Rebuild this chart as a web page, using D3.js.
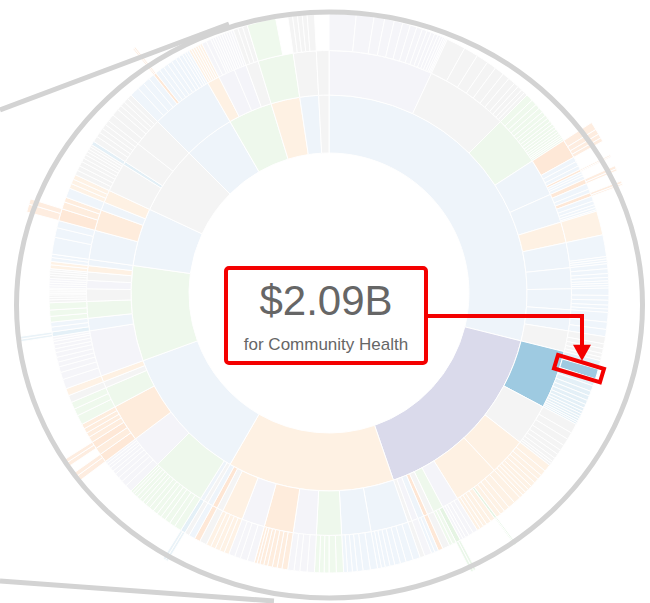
<!DOCTYPE html>
<html>
<head>
<meta charset="utf-8">
<script src="https://cdn.jsdelivr.net/npm/d3@7"></script>
<style>
    body { margin: 0; background: #fff; }
    svg { display: block; font-family: "Liberation Sans", Arial, sans-serif; }
</style>
</head>
<body>
<svg id="chart" width="650" height="603"></svg>
<script>
// --- Colours (20c style pastels) ---
const palette = {
    b: "#c6dbef", B: "#9ecae1",
    o: "#fdd0a2", O: "#fdbf8a", R: "#fcab70",
    g: "#c7e9c0", G: "#a1d99b",
    p: "#dadaeb", y: "#d9d9d9",
};

// --- Data: spending in $B ---
// ring 1 sectors, clockwise from 12 o'clock
const sectorColors = ["b", "p", "o", "b", "g", "b", "y", "b", "g", "o", "b", "y"];

// ring 2 programs per sector: [colour, value, ring 3 items]
// a ring 3 item is a value (same colour as program) or [colour, ring 4 values]
const programs = [
    [
        ["p", 25, [5.6, 3.7, 2.2, 2, 1.8, 1.6, 1.4, 1.2, 1, 0.9, 0.8, 0.7, 0.6, 0.5, 0.4, 0.3, 0.3]],
        ["y", 20, [4, 3, 2.5, 2, 2, 1.5, 1.5, 1, 1, 0.8, 0.7]],
        ["g", 12, [1.5, 1.2, 1, 1, 0.9, 0.8, 0.8, 0.7, 0.7, 0.6, 0.6, 0.5, 0.5, 0.4, 0.4, 0.4]],
        ["b", 9, [["R", [1.5, 1, 0.8, 0.7]], 1, 1, 0.8, ["R", [0.3, 0.2]], 0.5, 0.5, 0.7]],
        ["b", 7, [["R", [0.6, 0.4]], 1.2, 0.8, ["R", [0.5, 0.3]], 1, 0.8, 0.6, 0.5, 0.3]],
        ["o", 5, [5]],
        ["b", 6, [4.5, 0.5, 0.5, 0.5]],
        ["b", 5, [1, 1, 0.8, 0.7, 0.5, 0.5, 0.5]],
        ["b", 5, [1.5, 1, 1, 0.8, 0.7]],
        ["b", 5, [2, 1.5, 1.5]],
        ["y", 5, [1.5, 1, 1, 0.8, 0.7]],
    ],
    [
        ["B", 14, [1.8, 2.09, 1.5, 1.2, 1, 1, 0.9, 0.8, 0.7, 0.6, 0.6, 0.5, 0.5, 0.41, 0.4]],
        ["y", 10, [2, 1.5, 1.5, 1.2, 1, 1, 0.8, 0.5, 0.5]],
        ["o", 9, [1.5, 1.2, 1, 1, 1, 0.9, 0.8, 0.8, 0.8]],
        ["o", 11, [1.5, 1.5, 1.2, 1, 1, ["G", [0.3, 0.2]], 1, 1, 0.8, 0.8, 0.7]],
        ["p", 4, [1, 1, 0.8, 0.6, 0.6]],
        ["g", 2.5, [["G", [0.5, 0.5]], 0.8, 0.7]],
        ["y", 1.5, [1.5]],
        ["R", 1, [1]],
        ["b", 1.5, [0.8, 0.7]],
        ["p", 1.5, [1.5]],
        ["y", 1, [1]],
    ],
    [
        ["b", 9, [1.5, 1.5, 1.2, 1.2, 1, 1, 0.8, 0.8]],
        ["b", 7, [1.5, 1.5, 1.2, 1, 1, 0.8]],
        ["g", 6, [1.5, 1.5, 1, 1, 1]],
        ["p", 5.5, [1.5, 1.5, 1.2, 1.3]],
        ["O", 7, [1.2, 1, 1, 1, 0.8, 0.8, 0.6, 0.6]],
        ["p", 5.5, [1.5, 1.5, 1.2, 1.3]],
        ["o", 5, [1, 1, 1, 1, 1]],
        ["y", 1.5, [1.5]],
        ["R", 1.2, [1.2]],
        ["b", 1.3, [1.3]],
    ],
    [
        ["y", 1, [1]],
        ["b", 1, [["B", [0.5, 0.5]]]],
        ["g", 13, [1.5, 1.2, 1.2, 1, 1, 1, 1, 1, 0.8, 0.8, 0.8, 0.7, 0.5, 0.5]],
        ["p", 8, [1.5, 1.2, 1, 1, 0.8, 0.8, 0.6, 0.6, 0.5]],
        ["O", 9, [["R", [1, 0.8]], 1.5, ["R", [0.8, 0.7]], 1.2, 1, 1, 1]],
        ["g", 5, [2, 1.5, 1.5]],
        ["y", 1.5, [1.5]],
        ["o", 1.5, [1.5]],
    ],
    [
        ["p", 11, [2, 1.5, 1.2, 1, 1, 1, 0.8, 0.8, 0.7, 0.5, 0.5]],
        ["b", 3, [["B", [0.5, 0.5]], 1, 1]],
        ["g", 4, [1.2, 1.3, 1.5]],
        ["y", 3, [0.6, 0.5, 0.5, 0.4, 0.4, 0.3, 0.3]],
        ["p", 2, [0.5, 0.5, 0.5, 0.5]],
        ["y", 2, [0.6, 0.5, 0.5, 0.4]],
        ["o", 1.5, [0.8, 0.7]],
        ["b", 1.5, [0.8, 0.7]],
    ],
    [
        ["b", 7, [3.5, 2, 1.5]],
        ["O", 5, [["R", [1.5, 1]], 1.5, 1]],
        ["b", 2, [2]],
        ["o", 3, [1, 1, 1]],
    ],
    [
        ["y", 7, [1, 1, 1, 0.8, 0.8, 0.7, 0.6, 0.6, 0.5]],
        ["B", 0.8, [0.8]],
        ["y", 5.2, [1.2, 1, 1, 1, 1]],
        ["y", 7, [1.5, 1.5, 1, 1, 1, 1]],
    ],
    [
        ["b", 15, [2, 1.5, 1.5, 1.2, ["R", [0.3, 0.3]], 1, 1, 1, 1, 1, 0.8, 0.8, 0.6, 0.5, 0.5]],
    ],
    [
        ["o", 3, [0.5, 0.5, 0.5, 0.5, 0.5, 0.5]],
        ["p", 4, [1, 1, 0.5, 0.5, 0.5, 0.5]],
        ["p", 3, [0.5, 0.5, 0.5, 0.5, 0.5, 0.5]],
        ["y", 3, [1, 1, 1]],
    ],
    [
        ["g", 8.5, [6]],
    ],
    [
        ["y", 5.5, [1, 1, 1, 1, 1.5]],
    ],
    [
        ["y", 3, []],
    ],
];

// hovered item: sector, program, item
const focusPath = [1, 0, 1];
const focusName = "Community Health";

// --- Build hierarchy ---
const tree = {
    children: sectorColors.map((c, i) => ({
        color: c,
        children: programs[i].map(([pc, value, items]) => {
            const kids = items.map((s) =>
                Array.isArray(s)
                    ? { color: s[0], children: s[1].map((v) => ({ color: s[0], value: v })) }
                    : { color: pc, value: s },
            );
            const used = d3.sum(kids, (k) => (k.children ? d3.sum(k.children, (q) => q.value) : k.value));
            return { color: pc, own: Math.max(0, value - used), children: kids };
        }),
    })),
};

const root = d3
    .hierarchy(tree)
    .sum((d) => (d.children && d.children.length ? d.own || 0 : d.value ?? d.own ?? 0));

const levels = root.height + 1;
d3.partition().size([2 * Math.PI, levels])(root);

const focus = root.children[focusPath[0]].children[focusPath[1]].children[focusPath[2]];
const lit = new Set(focus.ancestors());

// --- Drawing ---
const cx = 329, cy = 293;
const radius = d3.scaleSqrt().domain([0, levels]).range([0, 313]);
const fade = [0, 0.3, 0.3, 0.28, 0.22]; // opacity of non-highlighted slices by depth

const arc = d3
    .arc()
    .startAngle((d) => d.x0)
    .endAngle((d) => d.x1)
    .innerRadius((d) => radius(d.y0))
    .outerRadius((d) => radius(d.y1));

const svg = d3.select("#chart");
const g = svg.append("g").attr("transform", `translate(${cx},${cy})`);

g.selectAll("path")
    .data(root.descendants().filter((d) => d.depth > 0))
    .join("path")
    .attr("d", arc)
    .attr("fill", (d) => palette[d.data.color])
    .attr("fill-opacity", (d) => (lit.has(d) ? 1 : fade[d.depth]))
    .attr("stroke", "#fff")
    .attr("stroke-width", 1);

// --- Magnifier outline ---
const grey = "#d3d3d3";
svg.append("ellipse")
    .attr("cx", 329.5).attr("cy", 305)
    .attr("rx", 313).attr("ry", 293)
    .attr("fill", "none")
    .attr("stroke", grey)
    .attr("stroke-width", 5);

svg.append("line")
    .attr("x1", 0).attr("y1", 110).attr("x2", 229).attr("y2", 24)
    .attr("stroke", grey).attr("stroke-width", 5);
svg.append("line")
    .attr("x1", 0).attr("y1", 581).attr("x2", 274).attr("y2", 601)
    .attr("stroke", grey).attr("stroke-width", 5);

// --- Annotation ---
const red = "#f40000";
const box = { x: 226, y: 268, w: 200, h: 95 };

svg.append("rect")
    .attr("x", box.x).attr("y", box.y)
    .attr("width", box.w).attr("height", box.h)
    .attr("rx", 3)
    .attr("fill", "none")
    .attr("stroke", red)
    .attr("stroke-width", 4);

svg.append("text")
    .attr("x", box.x + box.w / 2).attr("y", 315)
    .attr("text-anchor", "middle")
    .attr("font-size", 42)
    .attr("fill", "#666")
    .text("$" + d3.format(".3")(focus.value) + "B");

svg.append("text")
    .attr("x", box.x + box.w / 2).attr("y", 350)
    .attr("text-anchor", "middle")
    .attr("font-size", 17)
    .attr("fill", "#666")
    .text("for " + focusName);

// highlight the focused slice
const [fx, fy] = arc.centroid(focus);
const mid = ((focus.x0 + focus.x1) / 2) * 180 / Math.PI;
const px = cx + fx, py = cy + fy;

svg.append("rect")
    .attr("x", -24).attr("y", -7)
    .attr("width", 48).attr("height", 14)
    .attr("transform", `translate(${px},${py}) rotate(${mid - 90})`)
    .attr("fill", "none")
    .attr("stroke", red)
    .attr("stroke-width", 4);

const lineY = box.y + 48;
const tipY = py - 8;
svg.append("path")
    .attr("d", `M${box.x + box.w + 2},${lineY}H${px + 3}V${tipY - 12}`)
    .attr("fill", "none")
    .attr("stroke", red)
    .attr("stroke-width", 4);

svg.append("path")
    .attr("d", `M${px + 3 - 9},${tipY - 16}L${px + 3 + 9},${tipY - 16}L${px + 3},${tipY}Z`)
    .attr("fill", red);
</script>
</body>
</html>
